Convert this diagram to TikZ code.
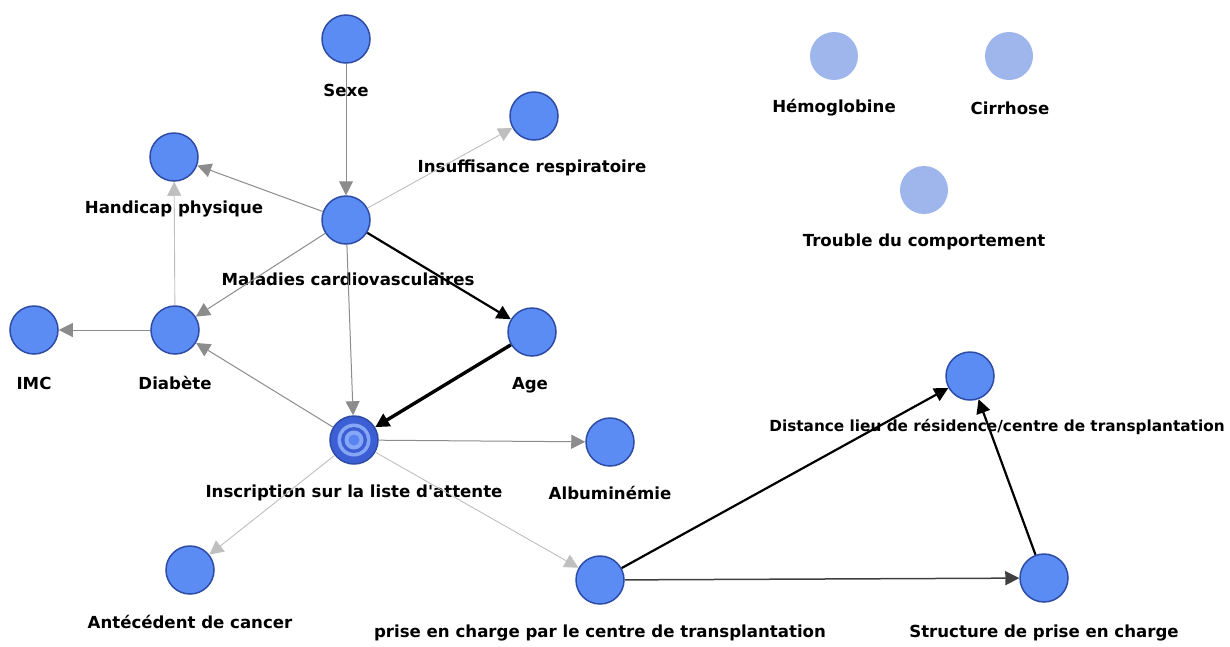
\documentclass[tikz,border=0pt]{standalone}
\usepackage{fontspec}
\setmainfont{DejaVu Sans}[Ligatures=TeXOff]
\usetikzlibrary{arrows.meta}
\definecolor{nodefill}{HTML}{5B8CF4}
\definecolor{nodeedge}{HTML}{2E4BA6}
\definecolor{palefill}{HTML}{9FB6EC}
\definecolor{ringdark}{HTML}{3C5FD6}
\definecolor{ringlight}{HTML}{86A6F6}
\tikzset{
  var/.style={circle, minimum size=48pt, inner sep=0pt, fill=nodefill, draw=nodeedge, line width=1.5pt},
  pale/.style={circle, minimum size=48pt, inner sep=0pt, fill=palefill},
  lab/.style={font=\fontsize{16.6}{18}\selectfont\bfseries, inner sep=0pt, anchor=center},
  tip/.style={-{Triangle[length=14pt,width=14pt]}},
  faint/.style={tip, draw=black!25, line width=0.9pt},
  thin/.style={tip, draw=black!45, line width=1pt},
  mid/.style={tip, draw=black!75, line width=1.5pt},
  strong/.style={tip, draw=black, line width=2.2pt},
  heavy/.style={tip, draw=black, line width=3.4pt},
}
\begin{document}
\begin{tikzpicture}[x=1pt,y=-1pt]
\useasboundingbox[fill=white] (0,0) rectangle (1230,646);
% nodes
\node[var] (sexe) at (346,39) {};
\node[var] (insuf) at (534,116) {};
\node[var] (handi) at (174,157) {};
\node[var] (malad) at (346,220) {};
\node[pale] (hemo) at (834,56) {};
\node[pale] (cirr) at (1009,56) {};
\node[pale] (troub) at (924,190) {};
\node[var] (imc) at (34,330) {};
\node[var] (diab) at (175,330) {};
\node[var] (age) at (532,332) {};
\node[var] (dist) at (970,376) {};
\node[circle, minimum size=48pt, inner sep=0pt, fill=ringdark, draw=nodeedge, line width=1.5pt] (insc) at (354,440) {};
\fill[ringlight] (insc.center) circle (16.5pt);
\fill[ringdark] (insc.center) circle (13pt);
\fill[ringlight] (insc.center) circle (9.5pt);
\fill[nodefill!85!ringdark] (insc.center) circle (5.5pt);
\node[var] (albu) at (610,442) {};
\node[var] (canc) at (190,570) {};
\node[var] (prise) at (600,580) {};
\node[var] (struc) at (1044,578) {};
% labels
\node[lab] (lsexe) at (346,90) {Sexe};
\node[lab] (linsuf) at (532,168) {Insuffisance respiratoire};
\node[lab] (lhandi) at (174,209) {Handicap physique};
\node[lab] (lmalad) at (348,279) {Maladies cardiovasculaires};
\node[lab] (lhemo) at (834,108) {Hémoglobine};
\node[lab] (lcirr) at (1010,108) {Cirrhose};
\node[lab] (ltroub) at (924,242) {Trouble du comportement};
\node[lab] (limc) at (34,383) {IMC};
\node[lab] (ldiab) at (175,383) {Diabète};
\node[lab] (lage) at (530,385) {Age};
\node[lab, font=\fontsize{15.3}{17}\selectfont\bfseries] (ldist) at (997,427) {Distance lieu de résidence/centre de transplantation};
\node[lab] (linsc) at (354,493) {Inscription sur la liste d'attente};
\node[lab] (lalbu) at (610,493) {Albuminémie};
\node[lab] (lcanc) at (190,622) {Antécédent de cancer};
\node[lab] (lprise) at (600,633) {prise en charge par le centre de transplantation};
\node[lab] (lstruc) at (1044,633) {Structure de prise en charge};
% edges
\draw[thin] (sexe) -- (malad);
\draw[faint] (malad) -- (insuf);
\draw[thin] (malad) -- (handi);
\draw[thin] (malad) -- (diab);
\draw[thin] (malad) -- (insc);
\draw[strong] (malad) -- (age);
\draw[heavy] (age) -- (insc);
\draw[faint] (diab) -- (handi);
\draw[thin] (diab) -- (imc);
\draw[thin] (insc) -- (diab);
\draw[thin] (insc) -- (albu);
\draw[faint] (insc) -- (canc);
\draw[faint] (insc) -- (prise);
\draw[strong] (prise) -- (dist);
\draw[mid] (prise) -- (struc);
\draw[strong] (struc) -- (dist);
\end{tikzpicture}
\end{document}
